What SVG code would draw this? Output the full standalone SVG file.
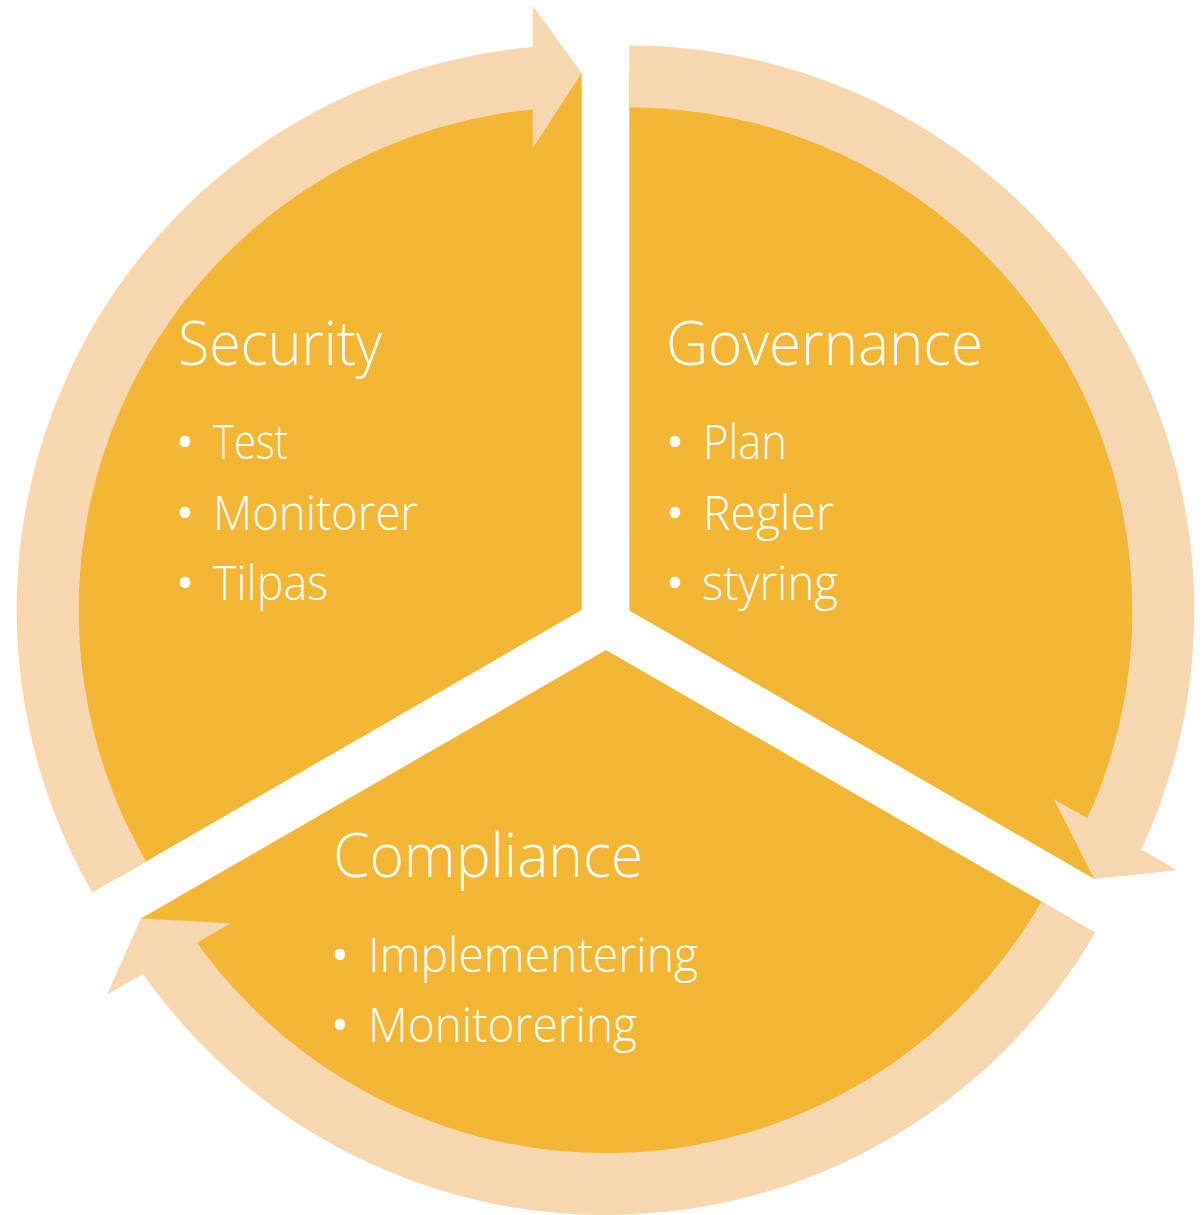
<svg xmlns="http://www.w3.org/2000/svg" width="1204" height="1215" viewBox="0 0 1204 1215">
<defs>
<style>
.wedge{fill:#F3B635;}
.arrow{fill:#F7D7AF;}
.title{font-family:"Open Sans","Liberation Sans",sans-serif;font-weight:300;font-size:61px;fill:#FFFFFF;}
.item{font-family:"Open Sans","Liberation Sans",sans-serif;font-weight:300;font-size:48px;fill:#FFFFFF;}
.bullet{font-family:"Open Sans","Liberation Sans",sans-serif;font-size:48px;fill:#FFFFFF;text-anchor:middle;}
</style>
<path id="wedgeShape" d="M0 0 L-465.1 268.5 A537 537 0 0 1 0 -537 Z"/>
<path id="arrowShape" d="M-489.3 282.5 A565 565 0 0 1 -49 -562.9 L-49 -604.3 L0 -537 L-49 -461.7 L-49 -500.6 A503 503 0 0 0 -435.6 251.5 Z"/>
</defs>
<rect width="1204" height="1215" fill="#FFFFFF"/>
<g id="wedges">
<use href="#wedgeShape" class="wedge" transform="translate(581.7 610)"/>
<use href="#wedgeShape" class="wedge" transform="translate(629.3 610.5) rotate(120)"/>
<use href="#wedgeShape" class="wedge" transform="translate(606 650) rotate(240)"/>
</g>
<g id="connectors">
<use href="#arrowShape" class="arrow" transform="translate(581.7 610)"/>
<use href="#arrowShape" class="arrow" transform="translate(629.3 610.5) rotate(120)"/>
<use href="#arrowShape" class="arrow" transform="translate(606 650) rotate(240)"/>
</g>
<g id="security">
<text class="title" x="178" y="365" textLength="204" lengthAdjust="spacingAndGlyphs">Security</text>
<text class="bullet" x="185" y="459">•</text>
<text class="item" x="213" y="459" textLength="75" lengthAdjust="spacingAndGlyphs">Test</text>
<text class="bullet" x="185" y="530">•</text>
<text class="item" x="213" y="530" textLength="205" lengthAdjust="spacingAndGlyphs">Monitorer</text>
<text class="bullet" x="185" y="600">•</text>
<text class="item" x="213" y="600" textLength="115" lengthAdjust="spacingAndGlyphs">Tilpas</text>
</g>
<g id="governance">
<text class="title" x="666" y="365" textLength="317" lengthAdjust="spacingAndGlyphs">Governance</text>
<text class="bullet" x="675" y="459">•</text>
<text class="item" x="703" y="459" textLength="84" lengthAdjust="spacingAndGlyphs">Plan</text>
<text class="bullet" x="675" y="530">•</text>
<text class="item" x="703" y="530" textLength="131" lengthAdjust="spacingAndGlyphs">Regler</text>
<text class="bullet" x="675" y="600">•</text>
<text class="item" x="702" y="600" textLength="136" lengthAdjust="spacingAndGlyphs">styring</text>
</g>
<g id="compliance">
<text class="title" x="333" y="877" textLength="310" lengthAdjust="spacingAndGlyphs">Compliance</text>
<text class="bullet" x="340" y="972">•</text>
<text class="item" x="368" y="972" textLength="330" lengthAdjust="spacingAndGlyphs">Implementering</text>
<text class="bullet" x="340" y="1042">•</text>
<text class="item" x="368" y="1042" textLength="269" lengthAdjust="spacingAndGlyphs">Monitorering</text>
</g>
</svg>
